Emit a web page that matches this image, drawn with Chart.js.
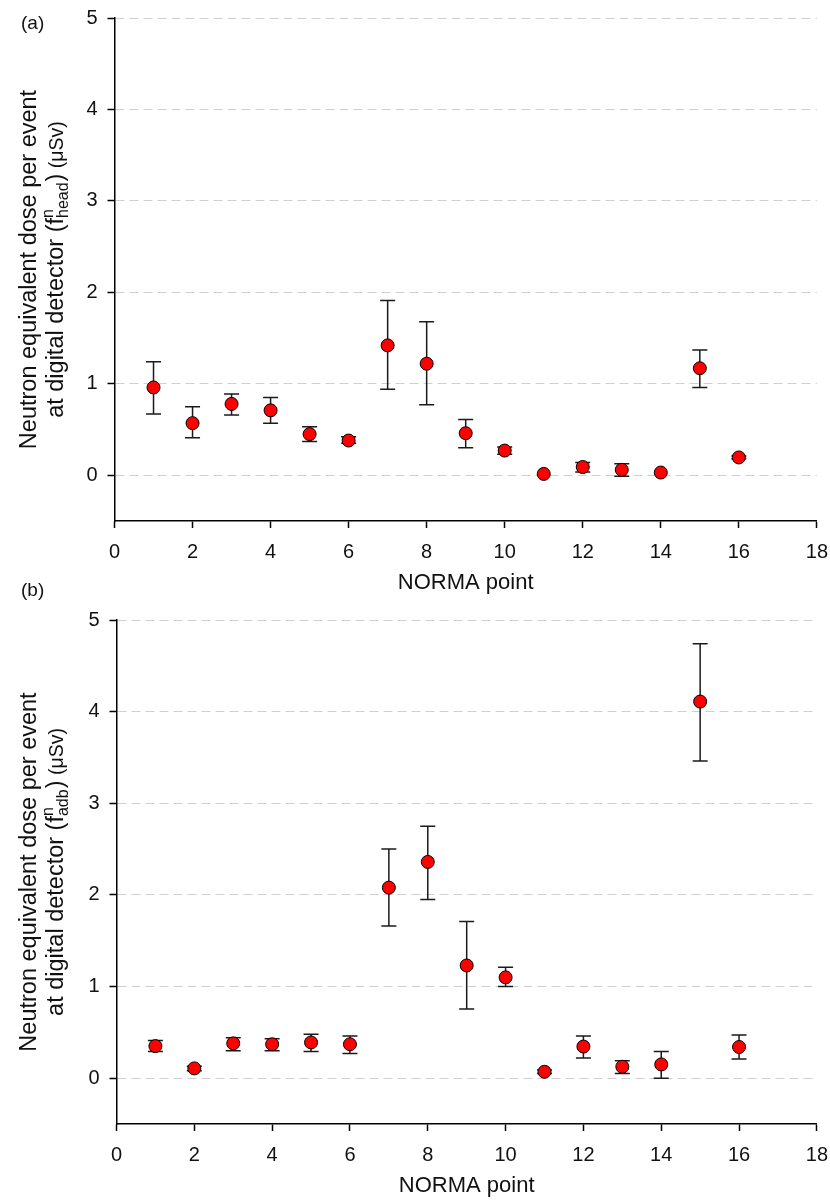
<!DOCTYPE html>
<html>
<head>
<meta charset="utf-8">
<script src="https://cdn.jsdelivr.net/npm/chart.js@4.4.1/dist/chart.umd.min.js"></script>
<style>
  body { margin: 0; background: #fff; overflow: hidden; }
  .panel { position: absolute; left: 0; width: 840px; }
</style>
</head>
<body>
<div class="panel" style="top:-4px"><canvas id="chartA" width="840" height="604"></canvas></div>
<div class="panel" style="top:578px"><canvas id="chartB" width="840" height="622"></canvas></div>
<script>
const normaPoints = [1, 2, 3, 4, 5, 6, 7, 8, 9, 10, 11, 12, 13, 14, 15, 16];

// (a) head detector
const doseHead = [0.96, 0.57, 0.78, 0.71, 0.45, 0.38, 1.42, 1.22, 0.46, 0.27, 0.015, 0.09, 0.06, 0.03, 1.17, 0.195];
const headLow  = [0.67, 0.41, 0.66, 0.57, 0.37, 0.35, 0.94, 0.77, 0.30, 0.23, 0.015, 0.035, -0.01, 0.03, 0.96, 0.18];
const headHigh = [1.24, 0.75, 0.89, 0.85, 0.53, 0.42, 1.91, 1.68, 0.61, 0.31, 0.015, 0.14, 0.125, 0.03, 1.37, 0.21];

// (b) adb detector
const doseAdb = [0.35, 0.107, 0.38, 0.37, 0.39, 0.37, 2.08, 2.36, 1.23, 1.10, 0.07, 0.345, 0.125, 0.15, 4.11, 0.34];
const adbLow  = [0.29, 0.08, 0.30, 0.30, 0.29, 0.27, 1.66, 1.95, 0.755, 1.00, 0.05, 0.22, 0.05, 0.0, 3.46, 0.21];
const adbHigh = [0.41, 0.13, 0.44, 0.43, 0.48, 0.46, 2.50, 2.75, 1.71, 1.21, 0.09, 0.46, 0.19, 0.29, 4.74, 0.47];

const xTicks = [0, 2, 4, 6, 8, 10, 12, 14, 16, 18];
const yTicks = [0, 1, 2, 3, 4, 5];

const FONT = "'Liberation Sans', Arial, sans-serif";

function errorBars(low, high) {
  return {
    id: "errorBars",
    beforeDatasetsDraw(chart) {
      const { ctx, scales: { x, y } } = chart;
      ctx.save();
      ctx.strokeStyle = "#1a1a1a";
      ctx.lineWidth = 1.5;
      low.forEach((lo, i) => {
        const hi = high[i];
        if (hi - lo <= 0) return;
        const px = x.getPixelForValue(normaPoints[i]);
        const top = y.getPixelForValue(hi);
        const bot = y.getPixelForValue(lo);
        ctx.beginPath();
        ctx.moveTo(px, top); ctx.lineTo(px, bot);
        ctx.moveTo(px - 7.5, top); ctx.lineTo(px + 7.5, top);
        ctx.moveTo(px - 7.5, bot); ctx.lineTo(px + 7.5, bot);
        ctx.stroke();
      });
      ctx.restore();
    }
  };
}

// rotated two-line y title with f^n_sub, plus the panel letter
function titles(panel, sub, panelY) {
  return {
    id: "titles",
    afterDraw(chart) {
      const { ctx, chartArea } = chart;
      const cy = (chartArea.top + chartArea.bottom) / 2;
      ctx.save();
      ctx.fillStyle = "#111";
      ctx.textBaseline = "alphabetic";
      ctx.font = "19px " + FONT;
      ctx.textAlign = "left";
      ctx.fillText(panel, 21, panelY);

      ctx.translate(0, cy);
      ctx.rotate(-Math.PI / 2);

      ctx.font = "23.5px " + FONT;
      ctx.textAlign = "center";
      ctx.fillText("Neutron equivalent dose per event", 0, 36);

      const main = "23.5px " + FONT, small = "16px " + FONT, unit = "19.5px " + FONT;
      ctx.font = main;
      const w1 = ctx.measureText("at digital detector (f").width;
      ctx.font = small;
      const wSup = ctx.measureText("n").width;
      const wSub = ctx.measureText(sub).width;
      ctx.font = main;
      const w2 = ctx.measureText(")").width;
      ctx.font = unit;
      const w3 = ctx.measureText(" (\u03bcSv)").width;
      const total = w1 + Math.max(wSup, wSub) + 1 + w2 + w3;
      let px = -total / 2;
      const base = 63;
      ctx.textAlign = "left";
      ctx.font = main;
      ctx.fillText("at digital detector (f", px, base);
      px += w1;
      ctx.font = small;
      ctx.fillText("n", px, base - 10);
      ctx.fillText(sub, px, base + 5);
      px += Math.max(wSup, wSub) + 1;
      ctx.font = main;
      ctx.fillText(")", px, base);
      px += w2;
      ctx.font = unit;
      ctx.fillText(" (\u03bcSv)", px, base);
      ctx.restore();
    }
  };
}

function makeChart(id, values, low, high, cfg) {
  return new Chart(document.getElementById(id), {
    type: "scatter",
    data: {
      datasets: [{
        data: normaPoints.map((x, i) => ({ x: x, y: values[i] })),
        pointRadius: 6.5,
        pointHoverRadius: 6.5,
        pointBackgroundColor: "#ff0000",
        pointBorderColor: "#000",
        pointBorderWidth: 1,
        showLine: false
      }]
    },
    options: {
      responsive: false,
      animation: false,
      layout: { padding: { left: 0, top: cfg.top, right: 4, bottom: 0 } },
      plugins: { legend: { display: false }, tooltip: { enabled: false } },
      scales: {
        x: {
          type: "linear",
          min: 0,
          max: 18,
          afterBuildTicks: (s) => { s.ticks = xTicks.map((v) => ({ value: v })); },
          afterFit: (s) => { s.height = cfg.xHeight; },
          grid: { drawOnChartArea: false, tickLength: 7, tickColor: "#000", tickWidth: 1.5 },
          border: { color: "#000", width: 1.5 },
          ticks: { color: "#111", font: { family: FONT, size: 20 }, padding: 12 },
          title: {
            display: true,
            text: "NORMA point",
            color: "#111",
            font: { family: FONT, size: 22 },
            padding: { top: 0, bottom: cfg.titlePad }
          }
        },
        y: {
          min: -0.5,
          max: 5,
          afterBuildTicks: (s) => { s.ticks = yTicks.map((v) => ({ value: v })); },
          afterFit: (s) => { s.width = cfg.left; },
          grid: { color: "#cfcfcf", lineWidth: 1, tickLength: 7, tickColor: "#000", tickWidth: 1.5 },
          border: { color: "#000", width: 1.5, dash: [9, 5] },
          ticks: { color: "#111", font: { family: FONT, size: 20 }, padding: 10 }
        }
      }
    },
    plugins: [errorBars(low, high), titles(cfg.panel, cfg.sub, cfg.panelY)]
  });
}

makeChart("chartA", doseHead, headLow, headHigh,
  { top: 17, left: 114.5, xHeight: 79, titlePad: 4, panel: "(a)", sub: "head", panelY: 33 });
makeChart("chartB", doseAdb, adbLow, adbHigh,
  { top: 42, left: 116.5, xHeight: 76, titlePad: 1, panel: "(b)", sub: "adb", panelY: 18 });
</script>
</body>
</html>
